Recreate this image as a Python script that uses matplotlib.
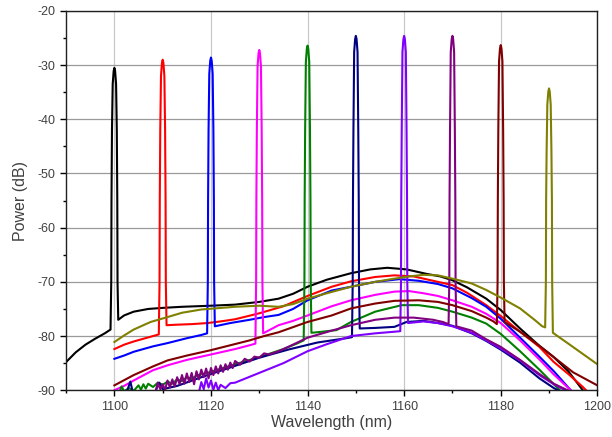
import matplotlib.pyplot as plt
from matplotlib.ticker import MultipleLocator

plt.rcParams['font.family'] = ['Liberation Sans', 'DejaVu Sans']
plt.rcParams['axes.unicode_minus'] = False

# Laser spectra, one per emission wavelength (nm, dB)
wl_1100 = [1090, 1092, 1094, 1096, 1098,
           1099.2, 1099.35, 1099.4, 1099.5, 1099.65, 1099.85, 1100, 1100.15, 1100.35, 1100.5, 1100.6, 1100.65, 1100.8,
           1102, 1104, 1107, 1110, 1114, 1120, 1125, 1130, 1134, 1137, 1140, 1144, 1149, 1153, 1156.5, 1160.5,
           1164.5, 1167.5, 1170, 1173, 1177, 1180, 1184, 1188, 1191, 1194, 1197]
db_1100 = [-84.8, -83.0, -81.6, -80.5, -79.5,
           -78.8, -70, -55, -42, -33.5, -31.1, -30.5, -31.1, -33.5, -42, -55, -70, -77.0,
           -76.2, -75.5, -75.0, -74.8, -74.6, -74.4, -74.2, -73.7, -73.1, -72.2, -70.9, -69.6, -68.4, -67.7, -67.4, -67.7,
           -68.5, -69.0, -69.7, -71.0, -73.1, -75.2, -78.6, -81.8, -83.9, -86.5, -90]

wl_1110 = [1100, 1102, 1104, 1106, 1108,
           1109.2, 1109.35, 1109.4, 1109.5, 1109.65, 1109.85, 1110, 1110.15, 1110.35, 1110.5, 1110.6, 1110.65, 1110.8,
           1113, 1116, 1119.3, 1122, 1125, 1130, 1135, 1140, 1145, 1149, 1154, 1158, 1162, 1167, 1170, 1173,
           1177, 1180, 1184, 1188, 1191, 1194, 1197, 1198]
db_1110 = [-82.4, -81.6, -81.0, -80.5, -80.0,
           -79.7, -70, -55, -42, -32.0, -29.6, -29.0, -29.6, -32.0, -42, -55, -70, -78.0,
           -77.9, -77.8, -77.6, -77.3, -76.9, -75.8, -74.5, -72.6, -70.9, -69.9, -69.1, -68.8, -69.0, -70.0, -70.6, -72.0,
           -74.3, -76.3, -79.2, -82.0, -84.8, -87.0, -89.4, -90.3]

wl_1120 = [1100, 1102, 1104, 1108, 1111, 1115, 1118,
           1119.2, 1119.35, 1119.4, 1119.5, 1119.65, 1119.85, 1120, 1120.15, 1120.35, 1120.5, 1120.6, 1120.65, 1120.8,
           1124, 1128, 1131, 1134, 1137, 1140, 1145, 1149, 1154, 1159, 1163, 1167, 1170, 1174, 1177, 1180,
           1184, 1188, 1191, 1194.5]
db_1120 = [-84.2, -83.6, -82.9, -81.9, -81.3, -80.4, -79.8,
           -79.5, -70, -55, -42, -31.6, -29.2, -28.6, -29.2, -31.6, -42, -55, -70, -78.2,
           -77.6, -77.0, -76.5, -76.1, -75.0, -73.4, -71.6, -70.9, -70.0, -69.5, -69.8, -70.4, -71.2, -73.0, -74.6, -76.8,
           -80.3, -83.8, -86.5, -90]

wl_1130 = [1100, 1102, 1104, 1108, 1111, 1115, 1120, 1125, 1128,
           1129.2, 1129.35, 1129.4, 1129.5, 1129.65, 1129.85, 1130, 1130.15, 1130.35, 1130.5, 1130.6, 1130.65, 1130.8,
           1134, 1137, 1140, 1145, 1149, 1154, 1158, 1161, 1164, 1167, 1170, 1174, 1177, 1180,
           1184, 1188, 1191, 1194.5]
db_1130 = [-90, -89.2, -88.2, -86.3, -85.4, -84.4, -83.4, -82.4, -81.7,
           -81.4, -70, -55, -42, -30.2, -27.8, -27.2, -27.8, -30.2, -42, -55, -70, -79.5,
           -78.0, -77.2, -76.2, -74.5, -73.4, -72.4, -71.8, -71.7, -72.1, -72.6, -73.4, -74.6, -75.9, -77.6,
           -80.8, -84.3, -87.1, -90]

wl_1140 = [1101, 1101.5, 1102, 1103, 1104, 1105, 1105.5, 1106, 1106.5, 1107, 1108, 1109, 1110, 1111, 1112, 1113,
           1114, 1115, 1116, 1117, 1120, 1125, 1130, 1135, 1138,
           1139.2, 1139.35, 1139.4, 1139.5, 1139.65, 1139.85, 1140, 1140.15, 1140.35, 1140.5, 1140.6, 1140.65, 1140.8,
           1143, 1146, 1149, 1154, 1159.5, 1163, 1167, 1170, 1174, 1177, 1180, 1184, 1188, 1191, 1192.5]
db_1140 = [-90.5, -89.3, -90.2, -89.6, -90.1, -89.1, -89.9, -88.9, -89.7, -88.8, -89.4, -88.6, -89.0, -88.4, -88.8, -88.0,
           -88.3, -87.6, -87.9, -87.3, -86.6, -85.2, -83.9, -82.4, -81.3,
           -80.8, -70, -55, -42, -29.4, -27.0, -26.4, -27.0, -29.4, -42, -55, -70, -79.4,
           -79.2, -78.9, -77.4, -75.5, -74.3, -74.3, -74.8, -75.5, -76.6, -77.7, -79.6, -82.8, -86.2, -88.9, -90.2]

wl_1150 = [1102.5, 1103.3, 1103.8, 1108.5, 1109.3, 1110, 1113, 1118, 1124, 1130, 1136, 1142, 1148,
           1149.2, 1149.35, 1149.4, 1149.5, 1149.65, 1149.85, 1150, 1150.15, 1150.35, 1150.5, 1150.6, 1150.65, 1150.8,
           1154, 1158, 1160.5, 1164, 1167, 1170, 1174, 1177, 1180, 1184, 1188, 1191, 1192.5]
db_1150 = [-90.5, -88.4, -90.3, -90.2, -88.6, -89.8, -89.2, -87.6, -85.8, -84.0, -82.5, -81.2, -80.4,
           -80.2, -70, -55, -42, -27.6, -25.2, -24.6, -25.2, -27.6, -42, -55, -70, -78.6,
           -78.5, -78.3, -77.4, -77.2, -77.6, -78.1, -79.5, -80.9, -82.5, -84.9, -87.8, -89.6, -90.3]

wl_1160 = [1117.5, 1118, 1118.5, 1119, 1119.5, 1120, 1120.5, 1121, 1121.5, 1122, 1123, 1124, 1125, 1130, 1135,
           1140, 1144, 1149, 1154, 1158,
           1159.2, 1159.35, 1159.4, 1159.5, 1159.65, 1159.85, 1160, 1160.15, 1160.35, 1160.5, 1160.6, 1160.65, 1160.8,
           1164, 1167, 1170, 1174, 1177, 1180, 1184, 1188, 1191, 1194]
db_1160 = [-90.4, -88.5, -89.8, -87.8, -89.5, -88.2, -89.9, -88.6, -90.0, -89.0, -89.6, -88.7, -88.6, -86.8, -85.0,
           -82.8, -81.5, -80.0, -79.5, -79.2,
           -79.1, -70, -55, -42, -27.6, -25.2, -24.6, -25.2, -27.6, -42, -55, -70, -77.6,
           -77.3, -77.6, -78.2, -79.4, -80.8, -82.3, -84.5, -87.2, -88.9, -90.3]

wl_1170 = [1108.5, 1109, 1109.5, 1110, 1110.5, 1111, 1111.5, 1112, 1112.5, 1113, 1113.5, 1114, 1114.5, 1115, 1115.5,
           1116, 1116.5, 1117, 1117.5, 1118, 1118.5, 1119, 1119.5, 1120, 1120.5, 1121, 1121.5, 1122, 1122.5, 1123,
           1123.5, 1124, 1124.5, 1125, 1126, 1127, 1128, 1129, 1130, 1131, 1132, 1134, 1136, 1140, 1145, 1149,
           1154, 1158, 1162, 1166, 1168,
           1169.2, 1169.35, 1169.4, 1169.5, 1169.65, 1169.85, 1170, 1170.15, 1170.35, 1170.5, 1170.6, 1170.65, 1170.8,
           1174, 1177, 1180, 1184, 1188, 1191, 1195]
db_1170 = [-90.3, -88.6, -89.8, -88.9, -89.9, -88.2, -89.5, -88.0, -89.3, -87.6, -88.9, -87.2, -88.8, -86.9, -88.5,
           -86.8, -88.9, -86.5, -88.0, -86.2, -87.6, -86.0, -87.8, -85.9, -87.2, -85.6, -86.9, -85.4, -86.6, -85.2,
           -86.2, -84.9, -85.9, -84.6, -85.3, -84.2, -84.7, -83.8, -84.0, -83.2, -83.4, -82.8, -82.0, -80.3, -79.0, -78.0,
           -77.0, -76.6, -76.6, -77.0, -77.4,
           -77.8, -70, -55, -42, -27.6, -25.2, -24.6, -25.2, -27.6, -42, -55, -70, -78.2,
           -79.0, -80.6, -82.0, -84.4, -87.0, -88.8, -90.5]

wl_1180 = [1100, 1104, 1108, 1111, 1115, 1120, 1124, 1128, 1131, 1134, 1140, 1145, 1149, 1154, 1158, 1163, 1167,
           1170, 1174, 1177, 1178.5,
           1179.2, 1179.35, 1179.4, 1179.5, 1179.65, 1179.85, 1180, 1180.15, 1180.35, 1180.5, 1180.6, 1180.65, 1180.8,
           1184, 1188, 1191, 1195, 1200]
db_1180 = [-89.1, -87.2, -85.6, -84.5, -83.6, -82.6, -81.7, -80.8, -80.0, -79.3, -77.4, -76.2, -74.9, -74.0, -73.5,
           -73.4, -73.7, -74.3, -75.4, -76.6, -77.3,
           -77.8, -70, -55, -42, -29.3, -26.9, -26.3, -26.9, -29.3, -42, -55, -70, -77.4,
           -79.2, -81.8, -83.9, -86.7, -89.1]

wl_1190 = [1100, 1102, 1104, 1107.5, 1111, 1114, 1118, 1125, 1130, 1134, 1137, 1140, 1144, 1149, 1154, 1158, 1161,
           1164, 1167, 1170, 1174, 1177, 1180, 1184, 1187, 1188.6,
           1189.2, 1189.35, 1189.4, 1189.5, 1189.65, 1189.85, 1190, 1190.15, 1190.35, 1190.5, 1190.6, 1190.65, 1190.8,
           1194, 1197, 1200]
db_1190 = [-81.1, -79.9, -78.8, -77.4, -76.5, -75.7, -75.1, -74.6, -74.4, -74.6, -74.1, -73.1, -72.1, -70.9, -70.0,
           -69.4, -69.0, -68.7, -68.8, -69.4, -70.3, -71.5, -72.9, -74.9, -77.0, -78.2,
           -78.4, -70, -55, -46, -37.3, -34.9, -34.3, -34.9, -37.3, -46, -55, -70, -79.4,
           -81.4, -83.3, -85.2]

spectra = [
    (wl_1100, db_1100, 'black'),
    (wl_1110, db_1110, '#ff0000'),
    (wl_1120, db_1120, '#0000ff'),
    (wl_1130, db_1130, '#ff00ff'),
    (wl_1140, db_1140, '#008000'),
    (wl_1150, db_1150, '#000080'),
    (wl_1160, db_1160, '#8000ff'),
    (wl_1170, db_1170, '#800080'),
    (wl_1180, db_1180, '#800000'),
    (wl_1190, db_1190, '#808000'),
]

fig = plt.figure(figsize=(6.12, 4.37), dpi=100)
ax = fig.add_axes([0.108, 0.107, 0.868, 0.868])

for wl, db, col in spectra:
    ax.plot(wl, db, color=col, lw=1.5)

ax.set_xlim(1090, 1200)
ax.set_ylim(-90, -20)
ax.xaxis.set_major_locator(MultipleLocator(20))
ax.xaxis.set_minor_locator(MultipleLocator(10))
ax.yaxis.set_major_locator(MultipleLocator(10))
ax.yaxis.set_minor_locator(MultipleLocator(5))

ax.xaxis.grid(True, which='major', color='#c8c8c8', lw=0.9)
ax.yaxis.grid(True, which='major', color='#9a9a9a', lw=0.9)
ax.set_axisbelow(True)

ax.tick_params(which='major', direction='out', length=4.5, width=1, pad=3,
               labelsize=9, labelcolor='#404040', top=False, right=False)
ax.tick_params(which='minor', direction='out', length=2.5, width=1, top=False, right=False)
for sp in ax.spines.values():
    sp.set_linewidth(1.0)
    sp.set_color('#202020')

ax.set_xlabel('Wavelength (nm)', fontsize=11.5, color='#404040', labelpad=2)
ax.set_ylabel('Power (dB)', fontsize=11.5, color='#404040', labelpad=7)

fig.savefig('out.png', dpi=100)
